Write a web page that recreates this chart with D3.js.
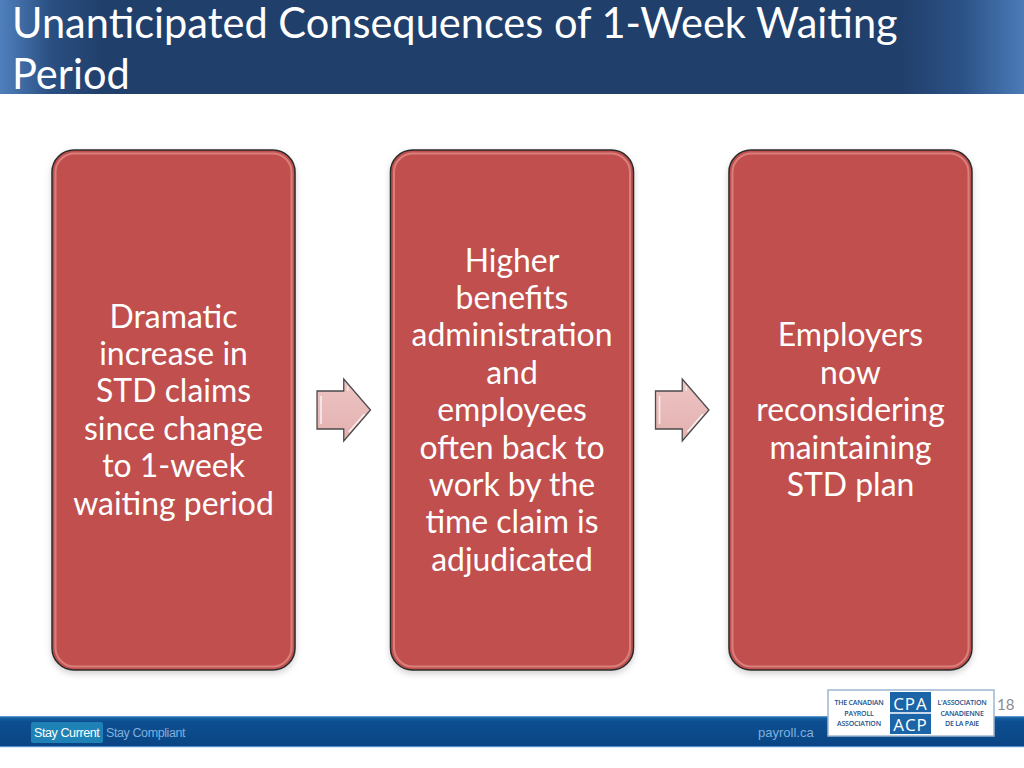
<!DOCTYPE html>
<html><head><meta charset="utf-8">
<script src="https://cdn.jsdelivr.net/npm/d3@7/dist/d3.min.js"></script>
<style>html,body{margin:0;padding:0;background:#fff;overflow:hidden}</style>
</head><body>
<script>
// ---- content ----
const titleLines = ["Unanticipated Consequences of 1-Week Waiting", "Period"];
const steps = ["step1", "step2", "step3"];
const stepLines = [
  ["Dramatic", "increase in", "STD claims", "since change", "to 1-week", "waiting period"],
  ["Higher", "benefits", "administration", "and", "employees", "often back to", "work by the", "time claim is", "adjudicated"],
  ["Employers", "now", "reconsidering", "maintaining", "STD plan"]
];
const arrowsBetween = [0, 1];
const footerLeft = ["Stay Current", "Stay Compliant"];
const footerRight = "payroll.ca";
const logoLeft = ["THE CANADIAN", "PAYROLL", "ASSOCIATION"];
const logoMid = ["CPA", "ACP"];
const logoRight = ["L'ASSOCIATION", "CANADIENNE", "DE LA PAIE"];
const pageNumber = "18";

const W = 1024, H = 768;
const svg = d3.select("body").append("svg").attr("width", W).attr("height", H);
const defs = svg.append("defs");
const FONT = "Lato, 'Open Sans', sans-serif";

// title bar gradient
const tg = defs.append("linearGradient").attr("id", "tg").attr("x1", 0).attr("x2", 1).attr("y1", 0).attr("y2", 0);
[[0, "#4f80bd"], [0.05, "#2a4f82"], [0.1, "#213f6b"], [0.88, "#213f6b"], [0.94, "#2b5286"], [1, "#4b7bb8"]]
  .forEach(([o, c]) => tg.append("stop").attr("offset", o).attr("stop-color", c));
svg.append("rect").attr("x", 0).attr("y", 0).attr("width", W).attr("height", 94).attr("fill", "url(#tg)");

const title = svg.append("g");
titleLines.forEach((t, i) => {
  title.append("text").attr("x", 12).attr("y", 38 + i * 51)
    .attr("font-family", FONT).attr("font-size", 36).attr("fill", "#fff").text(t);
});
// fit first line width to ~886px
{
  const t0 = title.select("text").node();
  const w = t0.getComputedTextLength();
  const fs = 36 * 886 / w;
  title.selectAll("text").attr("font-size", fs);
}

// boxes
const x = d3.scaleBand().domain(steps).range([52, 972]).paddingInner(0.282).paddingOuter(0);
const y = d3.scaleLinear().domain([0, 1]).range([150, 670]);
const bw = x.bandwidth(), bh = y(1) - y(0);

const sh = defs.append("filter").attr("id", "sh").attr("x", -0.1).attr("y", -0.1).attr("width", 1.2).attr("height", 1.2);
sh.append("feDropShadow").attr("dx", 0).attr("dy", 3).attr("stdDeviation", 3).attr("flood-color", "#000").attr("flood-opacity", 0.18);

const boxes = svg.selectAll("g.box").data(steps).join("g").attr("class", "box")
  .attr("transform", d => `translate(${x(d)},${y(0)})`);
boxes.append("rect").attr("width", bw).attr("height", bh).attr("rx", 22).attr("ry", 22)
  .attr("fill", "#c0504d").attr("stroke", "#2b2b2b").attr("stroke-width", 1.5).attr("filter", "url(#sh)");
boxes.append("rect").attr("x", 3.5).attr("y", 3.5).attr("width", bw - 7).attr("height", bh - 7).attr("rx", 19).attr("ry", 19)
  .attr("fill", "none").attr("stroke", "#f0a8a6").attr("stroke-width", 2).attr("opacity", 0.55);

const LH = 37.4;
let fsBox = 29;
boxes.each(function (d, i) {
  const g = d3.select(this);
  const lines = stepLines[i];
  const cy = bh / 2 - (lines.length - 1) * LH / 2;
  g.selectAll("text").data(lines).join("text")
    .attr("x", bw / 2).attr("y", (l, j) => cy + j * LH)
    .attr("dy", "0.35em").attr("text-anchor", "middle")
    .attr("font-family", FONT).attr("font-size", fsBox).attr("fill", "#fff").text(l => l);
});
// fit "administration" to ~201px
{
  let node = null;
  svg.selectAll("g.box text").each(function (t) { if (t === "administration") node = this; });
  const w = node.getComputedTextLength();
  fsBox = 29 * 201 / w;
  svg.selectAll("g.box text").attr("font-size", fsBox);
}

// arrows
const ag = defs.append("linearGradient").attr("id", "ag").attr("x1", 0).attr("x2", 0).attr("y1", 0).attr("y2", 1);
[[0, "#eec5c4"], [1, "#e2b0af"]].forEach(([o, c]) => ag.append("stop").attr("offset", o).attr("stop-color", c));
arrowsBetween.forEach(i => {
  const x0 = x(steps[i]) + bw + 22, x1 = x(steps[i + 1]) - 20;
  const len = x1 - x0, mid = x0 + len * 0.5, cy = 410;
  const p = d3.path();
  p.moveTo(x0, cy - 19); p.lineTo(mid, cy - 19); p.lineTo(mid, cy - 31); p.lineTo(x1, cy);
  p.lineTo(mid, cy + 31); p.lineTo(mid, cy + 19); p.lineTo(x0, cy + 19); p.closePath();
  svg.append("path").attr("d", p.toString()).attr("fill", "url(#ag)").attr("stroke", "#4a4a4a").attr("stroke-width", 1.3)
    .attr("stroke-linejoin", "miter");
  // highlights
  svg.append("line").attr("x1", x0 + 4).attr("x2", x0 + 4).attr("y1", cy - 14).attr("y2", cy + 14)
    .attr("stroke", "#fff").attr("stroke-width", 1.5).attr("opacity", 0.8);
  svg.append("line").attr("x1", mid + 5).attr("x2", x1 - 6).attr("y1", cy + 22).attr("y2", cy + 4)
    .attr("stroke", "#fff").attr("stroke-width", 1.5).attr("opacity", 0.8);
  svg.append("line").attr("x1", mid + 4).attr("x2", mid + 4).attr("y1", cy - 24).attr("y2", cy - 19)
    .attr("stroke", "#fff").attr("stroke-width", 1.2).attr("opacity", 0.7);
});

// footer bar
const fg = defs.append("linearGradient").attr("id", "fg").attr("x1", 0).attr("x2", 0).attr("y1", 0).attr("y2", 1);
[[0, "#1565a8"], [0.15, "#0c4f91"], [1, "#0a4585"]].forEach(([o, c]) => fg.append("stop").attr("offset", o).attr("stop-color", c));
svg.append("rect").attr("x", 0).attr("y", 717).attr("width", W).attr("height", 29).attr("fill", "url(#fg)");
svg.append("rect").attr("x", 0).attr("y", 716).attr("width", W).attr("height", 1.2).attr("fill", "#5b95cf");
svg.append("rect").attr("x", 0).attr("y", 746).attr("width", W).attr("height", 1.2).attr("fill", "#4f8fd0");

svg.append("rect").attr("x", 31).attr("y", 722).attr("width", 72).attr("height", 21).attr("rx", 2)
  .attr("fill", "#1f82b6");
svg.append("text").attr("x", 34).attr("y", 737).attr("font-family", "'Liberation Sans', Arial, sans-serif")
  .attr("font-size", 12.5).attr("letter-spacing", -0.4).attr("fill", "#fff").text(footerLeft[0]);
svg.append("text").attr("x", 106).attr("y", 737).attr("font-family", "'Liberation Sans', Arial, sans-serif")
  .attr("font-size", 12.5).attr("letter-spacing", -0.4).attr("fill", "#7fb0dc").text(footerLeft[1]);
svg.append("text").attr("x", 758).attr("y", 737).attr("font-family", "'Liberation Sans', Arial, sans-serif")
  .attr("font-size", 13).attr("fill", "#7fb0dc").text(footerRight);

// logo
const lg = svg.append("g").attr("transform", "translate(828,690)");
lg.append("rect").attr("width", 166).attr("height", 46).attr("fill", "#fff").attr("stroke", "#9fb6cf").attr("stroke-width", 1.5);
lg.append("rect").attr("x", 62).attr("y", 2).attr("width", 41).attr("height", 42).attr("fill", "#1c64a8");
lg.append("line").attr("x1", 62).attr("x2", 103).attr("y1", 23).attr("y2", 23).attr("stroke", "#fff").attr("stroke-width", 1.5);
logoMid.forEach((t, i) => lg.append("text").attr("x", 82.5).attr("y", 20 + i * 21).attr("text-anchor", "middle")
  .attr("font-family", "'Open Sans', sans-serif").attr("font-size", 17).attr("fill", "#fff").attr("letter-spacing", 1).text(t));
logoLeft.forEach((t, i) => lg.append("text").attr("x", 31).attr("y", 15 + i * 10.5).attr("text-anchor", "middle")
  .attr("font-family", "'Open Sans', sans-serif").attr("font-size", 7).attr("font-weight", 600).attr("letter-spacing", -0.2).attr("fill", "#1c4f8a").text(t));
logoRight.forEach((t, i) => lg.append("text").attr("x", 134).attr("y", 15 + i * 10.5).attr("text-anchor", "middle")
  .attr("font-family", "'Open Sans', sans-serif").attr("font-size", 7).attr("font-weight", 600).attr("letter-spacing", -0.2).attr("fill", "#1c4f8a").text(t));

svg.append("text").attr("x", 997).attr("y", 710).attr("font-family", FONT).attr("font-size", 15).attr("fill", "#8c8c8c").text(pageNumber);
</script>
</body></html>
